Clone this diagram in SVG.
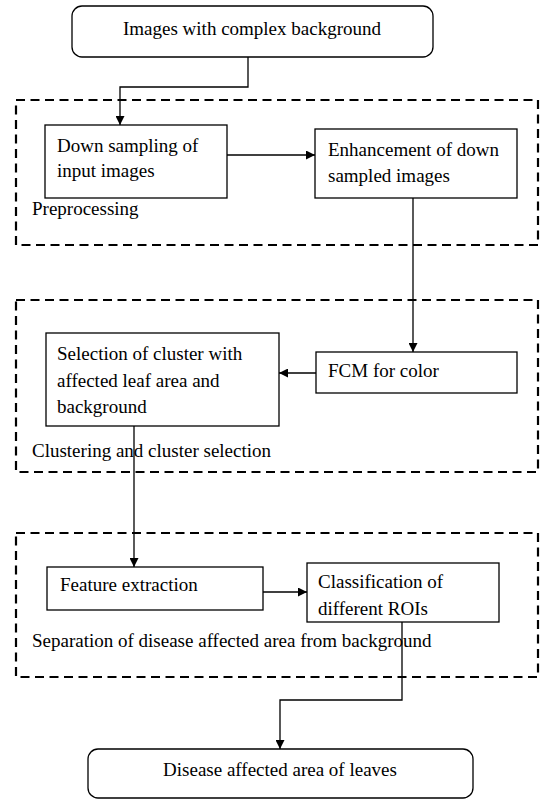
<svg xmlns="http://www.w3.org/2000/svg" width="546" height="800" viewBox="0 0 546 800">
<defs>
<marker id="ah" viewBox="0 0 10 10" refX="10" refY="5" markerWidth="9" markerHeight="9" markerUnits="userSpaceOnUse" orient="auto">
<path d="M0,0 L10,5 L0,10 z" fill="#000"/>
</marker>
</defs>
<style>
text{font-family:"Liberation Serif","Times New Roman",serif;font-size:19px;fill:#000}
.box{fill:#fff;stroke:#000;stroke-width:1.3}
.grp{fill:none;stroke:#000;stroke-width:2.2;stroke-dasharray:9 5.5}
.con{fill:none;stroke:#000;stroke-width:1.3;marker-end:url(#ah)}
</style>
<rect width="546" height="800" fill="#fff"/>
<g id="groups">
<rect class="grp" x="16" y="100" width="522" height="145"/>
<rect class="grp" x="16" y="300" width="522" height="172"/>
<rect class="grp" x="16" y="533" width="522" height="144"/>
</g>
<g id="group-labels">
<text x="32" y="215">Preprocessing</text>
<text x="32" y="457">Clustering and cluster selection</text>
<text x="32" y="647">Separation of disease affected area from background</text>
</g>
<g id="connectors">
<path class="con" d="M248,57 V87 H120 V125"/>
<path class="con" d="M227,155 H315"/>
<path class="con" d="M413,198 V352"/>
<path class="con" d="M316,373 H279"/>
<path class="con" d="M134,426 V567"/>
<path class="con" d="M263,592 H307"/>
<path class="con" d="M402,622 V700 H280 V749"/>
</g>
<g id="n-input">
<rect class="box" x="72" y="6" width="361" height="51" rx="10"/>
<text x="252" y="35" text-anchor="middle">Images with complex background</text>
</g>
<g id="n-down">
<rect class="box" x="45" y="125" width="182" height="73"/>
<text x="57" y="152">Down sampling of</text>
<text x="57" y="177">input images</text>
</g>
<g id="n-enh">
<rect class="box" x="315" y="129" width="202" height="69"/>
<text x="328" y="156">Enhancement of down</text>
<text x="328" y="182">sampled images</text>
</g>
<g id="n-fcm">
<rect class="box" x="316" y="352" width="201" height="41"/>
<text x="328" y="377">FCM for color</text>
</g>
<g id="n-sel">
<rect class="box" x="46" y="333" width="233" height="93"/>
<text x="57" y="360">Selection of cluster with</text>
<text x="57" y="387">affected leaf area and</text>
<text x="57" y="413">background</text>
</g>
<g id="n-feat">
<rect class="box" x="47" y="567" width="216" height="43"/>
<text x="60" y="591">Feature extraction</text>
</g>
<g id="n-class">
<rect class="box" x="307" y="563" width="192" height="59"/>
<text x="318" y="588">Classification of</text>
<text x="318" y="615">different ROIs</text>
</g>
<g id="n-out">
<rect class="box" x="88" y="749" width="385" height="49" rx="10"/>
<text x="280" y="776" text-anchor="middle">Disease affected area of leaves</text>
</g>
</svg>
